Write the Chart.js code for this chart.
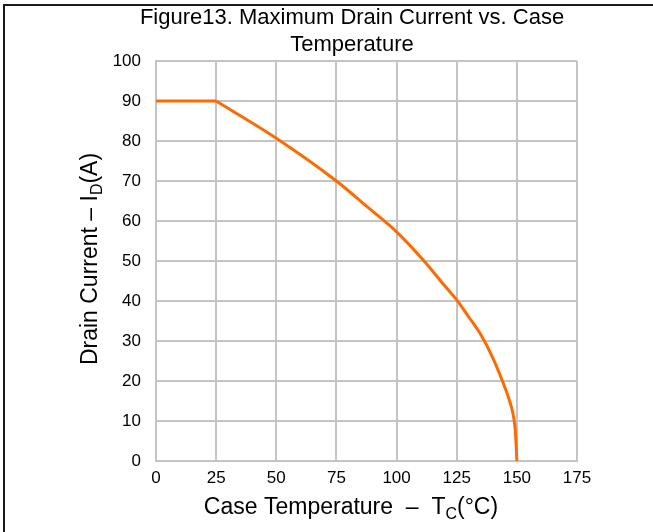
<!DOCTYPE html>
<html>
<head>
<meta charset="utf-8">
<script src="https://cdn.jsdelivr.net/npm/chart.js@4/dist/chart.umd.min.js"></script>
<style>
  html, body { margin: 0; padding: 0; background: #fff; }
  #wrap { position: relative; width: 653px; height: 532px; }
</style>
</head>
<body>
<div id="wrap"><canvas id="chart" width="653" height="532"></canvas></div>
<script>
const FONT = "'Liberation Sans', Arial, sans-serif";

// flat part, then the derating curve
const flatTemp = [0, 25];
const flatCurrent = [90, 90];
const curveTemp = [25, 50, 75, 87.5, 100, 111, 120, 125, 130, 135, 140, 144, 147, 148.5, 149.3, 149.7, 150];
const curveCurrent = [90, 80.7, 70, 63.7, 57.3, 50.3, 43.8, 40.3, 36, 31.6, 25.8, 20, 15, 11.5, 8, 4, 0];

const xTicks = [0, 25, 50, 75, 100, 125, 150, 175];
const yTicks = [0, 10, 20, 30, 40, 50, 60, 70, 80, 90, 100];

const titleLines = ['Figure13. Maximum Drain Current vs. Case', 'Temperature'];
const xTitle = [['Case Temperature  \u2013  T', false], ['C', true], ['(\u00b0C)', false]];
const yTitle = [['Drain Current \u2013 I', false], ['D', true], ['(A)', false]];

// draws text pieces with subscripts, centred on (0,0) of current transform
function drawRich(ctx, parts, size) {
  const subSize = Math.round(size * 0.68);
  let total = 0;
  const widths = parts.map(([t, sub]) => {
    ctx.font = (sub ? subSize : size) + 'px ' + FONT;
    const w = ctx.measureText(t).width;
    total += w;
    return w;
  });
  let x = -total / 2;
  ctx.textBaseline = 'alphabetic';
  ctx.textAlign = 'left';
  ctx.fillStyle = '#000';
  parts.forEach(([t, sub], i) => {
    ctx.font = (sub ? subSize : size) + 'px ' + FONT;
    ctx.fillText(t, x, size * 0.36 + (sub ? size * 0.22 : 0));
    x += widths[i];
  });
}

const extras = {
  id: 'extras',
  afterLayout(chart) {
    // title in the reference is centred a bit right of the canvas middle
    if (chart.titleBlock) chart.titleBlock.left = 127;
  },
  beforeDraw(chart) {
    const ctx = chart.ctx;
    ctx.save();
    ctx.fillStyle = '#1a1a1a';
    ctx.fillRect(3, 4, 650, 2);
    ctx.fillRect(3, 4, 2, 528);
    ctx.restore();
  },
  afterDraw(chart) {
    const ctx = chart.ctx;
    ctx.save();
    ctx.translate(351, 506);
    drawRich(ctx, xTitle, 23);
    ctx.restore();

    ctx.save();
    ctx.translate(89, 259);
    ctx.rotate(-Math.PI / 2);
    drawRich(ctx, yTitle, 23);
    ctx.restore();
  }
};

const lineStyle = {
  borderColor: '#ff6a00',
  borderWidth: 3,
  pointRadius: 0,
  fill: false
};

new Chart(document.getElementById('chart'), {
  type: 'line',
  data: {
    datasets: [
      Object.assign({
        data: flatTemp.map((t, i) => ({ x: t, y: flatCurrent[i] })),
        tension: 0
      }, lineStyle),
      Object.assign({
        data: curveTemp.map((t, i) => ({ x: t, y: curveCurrent[i] })),
        cubicInterpolationMode: 'monotone'
      }, lineStyle)
    ]
  },
  options: {
    responsive: false,
    animation: false,
    layout: { padding: { left: 52, right: 76, top: 0, bottom: 0 } },
    plugins: {
      legend: { display: false },
      tooltip: { enabled: false },
      title: {
        display: true,
        text: titleLines,
        color: '#000',
        font: { family: FONT, size: 22, weight: 'normal', lineHeight: 1.227 },
        padding: { top: 4.5, bottom: 2.5 }
      }
    },
    scales: {
      x: {
        type: 'linear',
        min: 0,
        max: 175,
        afterBuildTicks: s => { s.ticks = xTicks.map(v => ({ value: v })); },
        afterFit: s => { s.height = 71; },
        grid: { color: '#c4c4c4', lineWidth: 2, drawTicks: false },
        border: { color: '#c4c4c4', width: 2 },
        ticks: { color: '#000', padding: 7, font: { family: FONT, size: 17 }, maxRotation: 0 }
      },
      y: {
        min: 0,
        max: 100,
        afterBuildTicks: s => { s.ticks = yTicks.map(v => ({ value: v })); },
        afterFit: s => { s.width = 104; },
        grid: { color: '#c4c4c4', lineWidth: 2, drawTicks: false },
        border: { color: '#c4c4c4', width: 2 },
        ticks: { color: '#000', padding: 15, font: { family: FONT, size: 17 } }
      }
    }
  },
  plugins: [extras]
});
</script>
</body>
</html>
